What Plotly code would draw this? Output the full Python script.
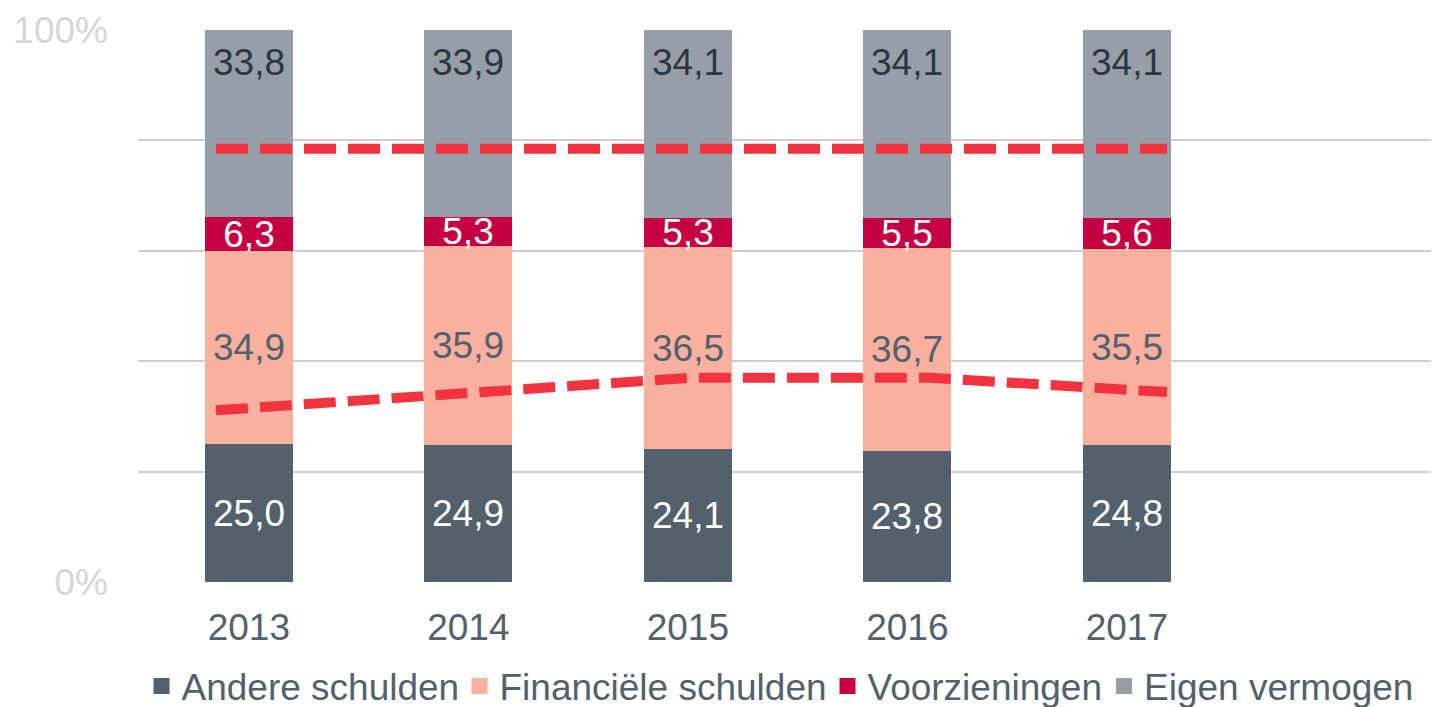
import plotly.graph_objects as go

years = ["2013", "2014", "2015", "2016", "2017"]
andere_schulden = [25.0, 24.9, 24.1, 23.8, 24.8]
financiele_schulden = [34.9, 35.9, 36.5, 36.7, 35.5]
voorzieningen = [6.3, 5.3, 5.3, 5.5, 5.6]
eigen_vermogen = [33.8, 33.9, 34.1, 34.1, 34.1]
lijn_onder = [31.1, 34.0, 37.0, 37.0, 34.4]
lijn_boven = [78.5, 78.5, 78.5, 78.5, 78.5]

FONT = "Liberation Sans, Arial, sans-serif"
fmt = lambda v: f"{v:.1f}".replace(".", ",")

series = [
    ("Andere schulden", andere_schulden, "#52616b", "white", "legend"),
    ("Financiële schulden", financiele_schulden, "#f9b09f", "#52616b", "legend2"),
    ("Voorzieningen", voorzieningen, "#c40042", "white", "legend3"),
    ("Eigen vermogen", eigen_vermogen, "#979ea8", "#2b3640", "legend4"),
]

fig = go.Figure()
for i, (name, vals, color, tcol, leg) in enumerate(series):
    is_top = i == len(series) - 1
    fig.add_trace(go.Bar(
        x=years, y=vals, name=name, showlegend=False,
        marker=dict(color=color, line=dict(width=0)),
        width=0.40,
        text=None if is_top else [fmt(v) for v in vals],
        textposition="inside",
        insidetextanchor="middle",
        constraintext="none",
        textfont=dict(family=FONT, size=37, color=tcol),
        hoverinfo="skip",
    ))
    # legend entry
    fig.add_trace(go.Scatter(
        x=[None], y=[None], name=name, mode="markers", legend=leg,
        marker=dict(symbol="square", size=19, color=color, line=dict(width=0)),
    ))

for vals in (lijn_onder, lijn_boven):
    fig.add_trace(go.Scatter(
        x=years, y=vals, mode="lines", xaxis="x2", showlegend=False,
        line=dict(color="#f23340", width=10, dash="32px,12px"),
        hoverinfo="skip",
    ))

# labels of the top segment, anchored at the top of each (100%) stack
for idx, v in enumerate(eigen_vermogen):
    fig.add_annotation(
        x=idx, y=100, xref="x", yref="y", text=fmt(v), showarrow=False,
        yanchor="top", yshift=-10,
        font=dict(family=FONT, size=37, color="#2b3640"),
    )

# page body has an 8px margin, so everything is placed 8px up/left
OFF = 8
PL, PR = 138 - OFF, 1439 - OFF  # plot left / right in figure pixels
PW = PR - PL


def legx(ref_center):
    return (ref_center - 20 + 1.5 - OFF - PL) / PW


legend_common = dict(
    orientation="h", xref="paper", yref="paper", xanchor="left",
    y=-(686 - 581.7) / 551.7, yanchor="middle",
    font=dict(family=FONT, size=37, color="#52616b"),
    itemsizing="trace", itemwidth=30, bgcolor="rgba(0,0,0,0)",
)

fig.update_layout(
    width=1439, height=707,
    barmode="stack",
    barnorm="percent",
    bargap=0,
    plot_bgcolor="white", paper_bgcolor="white",
    margin=dict(l=PL, r=1439 - PR, t=30 - OFF, b=707 - (581.7 - OFF), autoexpand=False),
    font=dict(family=FONT, size=37, color="#52616b"),
    xaxis=dict(
        type="category", categoryorder="array", categoryarray=years,
        range=[-0.505, 5.422], automargin=False,
        showgrid=False, zeroline=False, showline=False, ticks="",
        tickfont=dict(family=FONT, size=37, color="#52616b"),
        ticklabelstandoff=20,
    ),
    xaxis2=dict(
        type="category", categoryorder="array", categoryarray=years,
        overlaying="x", range=[-0.328, 5.144], visible=False,
    ),
    yaxis=dict(
        range=[0, 100], automargin=False,
        tickvals=[0, 20, 40, 60, 80, 100],
        ticktext=["0%", "", "", "", "", "100%"],
        showgrid=True, gridcolor="#cdcfd3", gridwidth=2,
        zeroline=False, showline=False, ticks="",
        tickfont=dict(family=FONT, size=37, color="#d6d6da"),
        ticklabelstandoff=29,
    ),
    legend=dict(legend_common, x=legx(160)),
    legend2=dict(legend_common, x=legx(478)),
    legend3=dict(legend_common, x=legx(846)),
    legend4=dict(legend_common, x=legx(1122.5)),
    showlegend=True,
)

fig.write_html("out.html")
